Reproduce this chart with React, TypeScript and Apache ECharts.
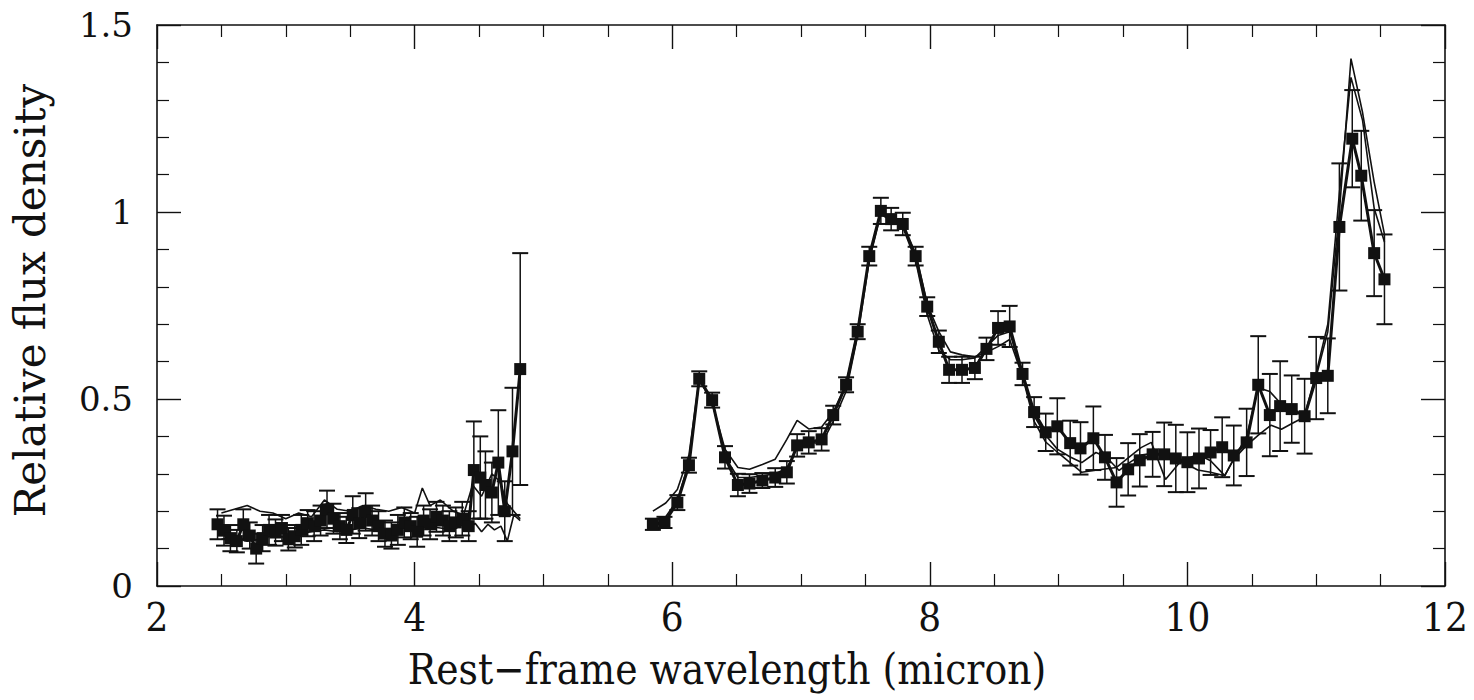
import { useEffect, useRef } from "react";
import * as echarts from "echarts";

// ---- main spectrum (filled squares with error bars) ----
const shortWl = [2.47, 2.52, 2.57, 2.62, 2.67, 2.72, 2.77, 2.82, 2.87, 2.92, 2.97, 3.02, 3.07, 3.12, 3.17, 3.22, 3.27, 3.32, 3.37, 3.42, 3.47, 3.52, 3.57, 3.62, 3.67, 3.72, 3.77, 3.82, 3.87, 3.92, 3.97, 4.02, 4.07, 4.12, 4.17, 4.22, 4.27, 4.32, 4.37, 4.42, 4.46, 4.51, 4.55, 4.60, 4.65, 4.70, 4.76, 4.82];
const shortFlux = [0.165, 0.148, 0.128, 0.120, 0.165, 0.135, 0.100, 0.128, 0.150, 0.143, 0.155, 0.125, 0.133, 0.150, 0.168, 0.160, 0.175, 0.205, 0.180, 0.160, 0.150, 0.190, 0.168, 0.198, 0.175, 0.160, 0.140, 0.135, 0.150, 0.170, 0.160, 0.145, 0.175, 0.165, 0.185, 0.175, 0.160, 0.170, 0.180, 0.160, 0.310, 0.290, 0.270, 0.250, 0.330, 0.200, 0.360, 0.580];
const shortErr = [0.04, 0.04, 0.035, 0.03, 0.04, 0.035, 0.04, 0.035, 0.04, 0.035, 0.035, 0.03, 0.03, 0.04, 0.035, 0.04, 0.04, 0.05, 0.04, 0.035, 0.035, 0.05, 0.04, 0.05, 0.04, 0.04, 0.035, 0.035, 0.04, 0.04, 0.035, 0.04, 0.04, 0.04, 0.04, 0.04, 0.04, 0.04, 0.045, 0.04, 0.13, 0.11, 0.09, 0.08, 0.14, 0.08, 0.17, 0.31];

const midWl = [5.85, 5.94, 6.04, 6.13, 6.21, 6.31, 6.41, 6.51, 6.60, 6.70, 6.80, 6.89, 6.97, 7.06, 7.16, 7.25, 7.35, 7.44, 7.53, 7.62, 7.70, 7.79, 7.89, 7.98, 8.07, 8.15, 8.25, 8.35, 8.44, 8.53, 8.62, 8.72, 8.81, 8.90, 8.99, 9.09, 9.17, 9.27, 9.36, 9.45, 9.54, 9.63, 9.73, 9.82, 9.91, 10.00, 10.09, 10.18, 10.27, 10.36, 10.46, 10.55, 10.64, 10.72, 10.81, 10.91, 11.00, 11.09, 11.18, 11.28, 11.35, 11.45, 11.53];
const midFlux = [0.165, 0.170, 0.223, 0.323, 0.554, 0.497, 0.344, 0.270, 0.274, 0.282, 0.290, 0.304, 0.376, 0.384, 0.392, 0.457, 0.538, 0.680, 0.882, 1.003, 0.981, 0.968, 0.882, 0.747, 0.653, 0.578, 0.578, 0.583, 0.634, 0.690, 0.694, 0.567, 0.465, 0.411, 0.427, 0.382, 0.368, 0.395, 0.344, 0.277, 0.312, 0.336, 0.352, 0.352, 0.341, 0.331, 0.341, 0.357, 0.371, 0.349, 0.384, 0.538, 0.457, 0.481, 0.473, 0.454, 0.556, 0.562, 0.960, 1.196, 1.097, 0.890, 0.820];
const midErr = [0.015, 0.015, 0.02, 0.02, 0.02, 0.02, 0.03, 0.03, 0.025, 0.02, 0.025, 0.03, 0.03, 0.03, 0.03, 0.025, 0.02, 0.02, 0.025, 0.035, 0.03, 0.03, 0.025, 0.025, 0.03, 0.035, 0.035, 0.03, 0.03, 0.045, 0.055, 0.03, 0.04, 0.05, 0.075, 0.06, 0.07, 0.085, 0.06, 0.065, 0.07, 0.07, 0.06, 0.085, 0.09, 0.08, 0.08, 0.06, 0.08, 0.08, 0.09, 0.13, 0.11, 0.12, 0.09, 0.10, 0.11, 0.10, 0.17, 0.13, 0.12, 0.115, 0.12];

// ---- comparison spectrum A (thin line) ----
const compAShortWl = [2.50, 2.60, 2.70, 2.80, 2.90, 3.00, 3.10, 3.20, 3.30, 3.40, 3.50, 3.60, 3.70, 3.80, 3.90, 4.00, 4.06, 4.12, 4.20, 4.30, 4.38, 4.45, 4.52, 4.60, 4.66, 4.72, 4.82];
const compAShortFlux = [0.195, 0.205, 0.215, 0.200, 0.195, 0.180, 0.195, 0.185, 0.230, 0.205, 0.200, 0.215, 0.205, 0.200, 0.210, 0.195, 0.262, 0.215, 0.230, 0.200, 0.190, 0.270, 0.240, 0.300, 0.280, 0.220, 0.180];
const compAMidWl = [5.85, 5.95, 6.04, 6.13, 6.21, 6.31, 6.41, 6.51, 6.60, 6.70, 6.80, 6.89, 6.97, 7.06, 7.16, 7.25, 7.35, 7.44, 7.53, 7.62, 7.70, 7.79, 7.89, 7.98, 8.07, 8.16, 8.25, 8.35, 8.44, 8.53, 8.62, 8.72, 8.81, 8.90, 8.99, 9.09, 9.18, 9.29, 9.37, 9.47, 9.55, 9.64, 9.73, 9.83, 9.92, 10.00, 10.08, 10.18, 10.29, 10.36, 10.46, 10.56, 10.65, 10.73, 10.83, 10.91, 11.00, 11.09, 11.18, 11.27, 11.36, 11.45, 11.53];
const compAMidFlux = [0.200, 0.222, 0.258, 0.350, 0.554, 0.490, 0.366, 0.317, 0.312, 0.325, 0.339, 0.392, 0.443, 0.420, 0.425, 0.465, 0.538, 0.685, 0.876, 1.003, 0.985, 0.960, 0.890, 0.753, 0.680, 0.626, 0.618, 0.613, 0.625, 0.640, 0.659, 0.560, 0.455, 0.403, 0.366, 0.345, 0.330, 0.357, 0.345, 0.309, 0.330, 0.350, 0.355, 0.350, 0.336, 0.325, 0.310, 0.304, 0.295, 0.339, 0.376, 0.406, 0.430, 0.419, 0.438, 0.452, 0.560, 0.680, 1.000, 1.410, 1.266, 1.080, 0.940];

// ---- comparison spectrum B (thin line) ----
const compBShortWl = [2.50, 2.60, 2.70, 2.80, 2.90, 3.00, 3.10, 3.20, 3.30, 3.40, 3.50, 3.60, 3.70, 3.80, 3.90, 4.00, 4.10, 4.20, 4.30, 4.38, 4.42, 4.47, 4.52, 4.57, 4.62, 4.67, 4.72, 4.77, 4.82];
const compBShortFlux = [0.125, 0.130, 0.120, 0.125, 0.135, 0.130, 0.140, 0.145, 0.150, 0.145, 0.150, 0.155, 0.150, 0.150, 0.155, 0.150, 0.160, 0.155, 0.150, 0.165, 0.150, 0.168, 0.145, 0.165, 0.150, 0.160, 0.120, 0.190, 0.175];
const compBMidWl = [5.85, 5.95, 6.04, 6.13, 6.21, 6.31, 6.41, 6.51, 6.60, 6.70, 6.80, 6.89, 6.97, 7.06, 7.16, 7.25, 7.35, 7.44, 7.53, 7.62, 7.70, 7.79, 7.89, 7.98, 8.07, 8.16, 8.25, 8.35, 8.44, 8.53, 8.62, 8.72, 8.81, 8.90, 9.00, 9.18, 9.30, 9.45, 9.55, 9.64, 9.72, 9.83, 9.94, 10.08, 10.18, 10.29, 10.36, 10.46, 10.55, 10.64, 10.72, 10.81, 10.91, 11.00, 11.09, 11.18, 11.27, 11.36, 11.45, 11.53];
const compBMidFlux = [0.175, 0.185, 0.230, 0.330, 0.550, 0.495, 0.345, 0.290, 0.290, 0.295, 0.300, 0.315, 0.370, 0.385, 0.380, 0.440, 0.520, 0.670, 0.870, 0.995, 0.975, 0.960, 0.870, 0.725, 0.630, 0.605, 0.605, 0.610, 0.640, 0.670, 0.680, 0.560, 0.440, 0.385, 0.355, 0.304, 0.310, 0.317, 0.345, 0.370, 0.384, 0.285, 0.330, 0.352, 0.335, 0.295, 0.340, 0.400, 0.530, 0.520, 0.490, 0.470, 0.455, 0.570, 0.700, 1.050, 1.360, 1.245, 1.010, 0.920];

// ---- axis ticks ----
const xMin = 2;
const xMax = 12;
const xStep = 2;
const yMin = 0;
const yMax = 1.5;
const yStep = 0.5;
const xTitle = "Rest\u2212frame wavelength (micron)";
const yTitle = "Relative flux density";

const zip = (a: number[], b: number[]) => a.map((v, i) => [v, b[i]]);
const errZip = (a: number[], b: number[], e: number[]) => a.map((v, i) => [v, b[i] - e[i], b[i] + e[i]]);

export default function App() {
  const ref = useRef<HTMLDivElement>(null);
  useEffect(() => {
    if (!ref.current) return;
    const chart = echarts.init(ref.current, undefined, { renderer: "svg" });
    const black = "#111";
    const serif = "DejaVu Serif, Liberation Serif, serif";
    const cond = "DejaVu Serif Condensed, DejaVu Serif, Liberation Serif, serif";

    const baseX = {
      type: "value" as const,
      min: xMin,
      max: xMax,
      interval: xStep,
      splitLine: { show: false },
      axisLine: { show: true, onZero: false, lineStyle: { color: black, width: 1.6 } },
      axisTick: { show: true, inside: true, length: 24, lineStyle: { color: black, width: 1.4 } },
      minorTick: { show: true, splitNumber: 4, length: 12, lineStyle: { color: black, width: 1.2 } },
    };
    const baseY = {
      type: "value" as const,
      min: yMin,
      max: yMax,
      interval: yStep,
      splitLine: { show: false },
      axisLine: { show: true, onZero: false, lineStyle: { color: black, width: 1.6 } },
      axisTick: { show: true, inside: true, length: 24, lineStyle: { color: black, width: 1.4 } },
      minorTick: { show: true, splitNumber: 5, length: 12, lineStyle: { color: black, width: 1.2 } },
    };

    const errRender = (_p: any, api: any) => {
      const x = api.value(0);
      const lo = api.coord([x, api.value(1)]);
      const hi = api.coord([x, api.value(2)]);
      const w = 8;
      const st = { stroke: black, lineWidth: 1.5 };
      return {
        type: "group",
        children: [
          { type: "line", shape: { x1: lo[0], y1: lo[1], x2: hi[0], y2: hi[1] }, style: st },
          { type: "line", shape: { x1: lo[0] - w, y1: lo[1], x2: lo[0] + w, y2: lo[1] }, style: { stroke: black, lineWidth: 2 } },
          { type: "line", shape: { x1: hi[0] - w, y1: hi[1], x2: hi[0] + w, y2: hi[1] }, style: { stroke: black, lineWidth: 2 } },
        ],
      };
    };

    const thin = (data: number[][]) => ({
      type: "line" as const,
      data,
      showSymbol: false,
      symbol: "none",
      lineStyle: { color: black, width: 1.6 },
      z: 3,
      silent: true,
    });
    const main = (data: number[][]) => ({
      type: "line" as const,
      data,
      symbol: "rect",
      symbolSize: 12,
      showSymbol: true,
      itemStyle: { color: black },
      lineStyle: { color: black, width: 3 },
      z: 5,
      silent: true,
    });
    const errs = (data: number[][]) => ({
      type: "custom" as const,
      data,
      renderItem: errRender,
      encode: { x: 0, y: [1, 2] },
      z: 4,
      silent: true,
    });

    chart.setOption({
      animation: false,
      backgroundColor: "#fff",
      grid: { left: 157, right: 29, top: 25, bottom: 114, containLabel: false },
      xAxis: [
        {
          ...baseX,
          position: "bottom",
          name: xTitle,
          nameLocation: "middle",
          nameGap: 62,
          nameTextStyle: { fontFamily: cond, fontSize: 42, color: black, padding: [0, 148, 0, 0] },
          axisLabel: { fontFamily: cond, fontSize: 40, color: black, margin: 11 },
        },
        { ...baseX, position: "top", axisLabel: { show: false } },
      ],
      yAxis: [
        {
          ...baseY,
          position: "left",
          name: yTitle,
          nameLocation: "middle",
          nameGap: 106,
          nameTextStyle: { fontFamily: serif, fontSize: 42, color: black, padding: [0, 0, 0, 10] },
          axisLabel: { fontFamily: serif, fontSize: 34, color: black, margin: 24 },
        },
        { ...baseY, position: "right", axisLabel: { show: false } },
      ],
      series: [
        thin(zip(compAShortWl, compAShortFlux)),
        thin(zip(compAMidWl, compAMidFlux)),
        thin(zip(compBShortWl, compBShortFlux)),
        thin(zip(compBMidWl, compBMidFlux)),
        errs(errZip(shortWl, shortFlux, shortErr)),
        errs(errZip(midWl, midFlux, midErr)),
        main(zip(shortWl, shortFlux)),
        main(zip(midWl, midFlux)),
      ],
    });
    return () => chart.dispose();
  }, []);
  return <div ref={ref} style={{ position: "fixed", left: 0, top: 0, width: 1474, height: 700 }} />;
}
